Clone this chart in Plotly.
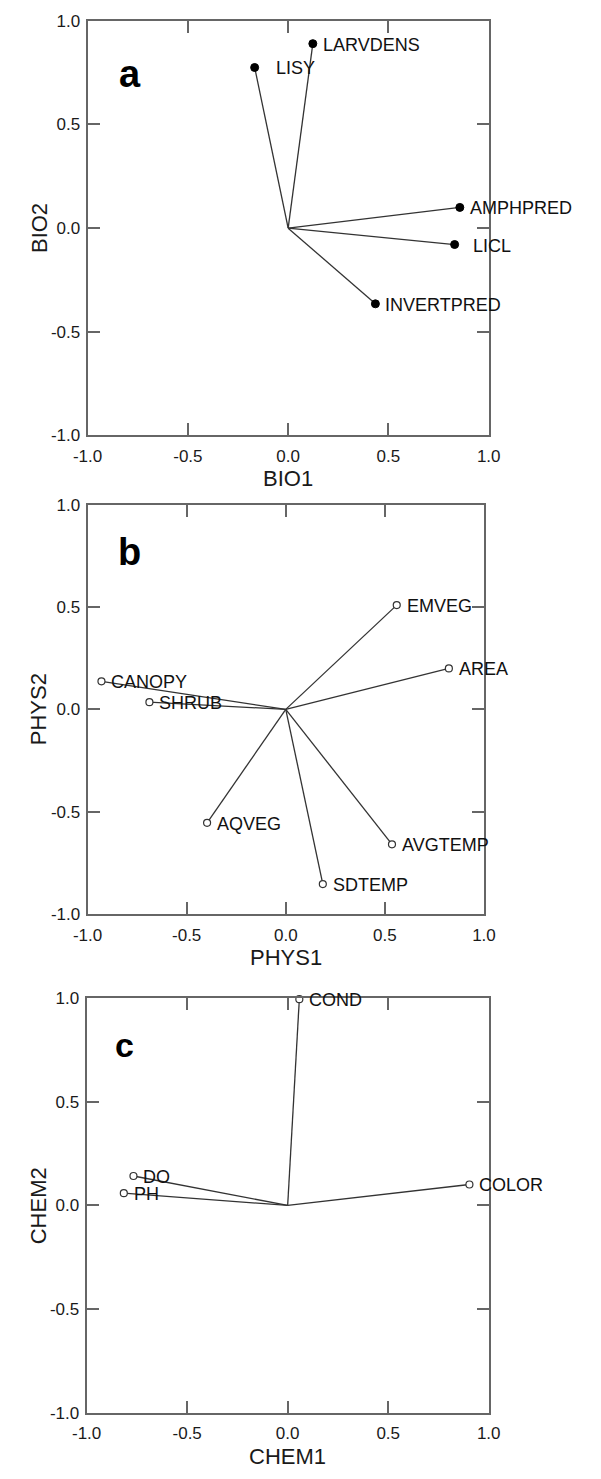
import plotly.graph_objects as go

# ---- data ----
bio_names = ["LARVDENS", "LISY", "AMPHPRED", "LICL", "INVERTPRED"]
bio_x = [0.123, -0.167, 0.856, 0.830, 0.435]
bio_y = [0.890, 0.775, 0.100, -0.079, -0.365]

phys_names = ["EMVEG", "AREA", "CANOPY", "SHRUB", "AQVEG", "AVGTEMP", "SDTEMP"]
phys_x = [0.560, 0.823, -0.930, -0.688, -0.397, 0.536, 0.187]
phys_y = [0.509, 0.200, 0.137, 0.035, -0.554, -0.659, -0.853]

chem_names = ["COND", "COLOR", "DO", "PH"]
chem_x = [0.058, 0.904, -0.767, -0.815]
chem_y = [0.995, 0.101, 0.142, 0.059]

tick_vals = [-1.0, -0.5, 0.0, 0.5, 1.0]
tick_text = ["-1.0", "-0.5", "0.0", "0.5", "1.0"]

panels = [
    dict(letter="a", xtitle="BIO1", ytitle="BIO2", names=bio_names, x=bio_x, y=bio_y, filled=True),
    dict(letter="b", xtitle="PHYS1", ytitle="PHYS2", names=phys_names, x=phys_x, y=phys_y, filled=False),
    dict(letter="c", xtitle="CHEM1", ytitle="CHEM2", names=chem_names, x=chem_x, y=chem_y, filled=False),
]

# ---- layout geometry (pixels in 601x1479 page) ----
W, H = 601, 1479
boxes = [  # left, right, top, bottom
    (76, 496, 12, 432),
    (76, 491, 502, 917),
    (75, 496, 1002, 1422),
]
letter_pos = [(-0.787, 0.743, 38), (-0.788, 0.769, 38), (-0.813, 0.773, 34)]
label_shift = {"LISY": 19, "LICL": 16}

FONT = "Arial, Liberation Sans, sans-serif"
AXC = "#666666"
TXT = "#1a1a1a"

fig = go.Figure()
layout = dict(width=W, height=H, margin=dict(l=0, r=0, t=0, b=0),
              paper_bgcolor="white", plot_bgcolor="white", showlegend=False,
              font=dict(family=FONT, color=TXT))
annotations = []

for i, (p, box) in enumerate(zip(panels, boxes)):
    k = "" if i == 0 else str(i + 1)
    xa, ya = "x" + k, "y" + k
    l, r, t, b = box
    lx, ly = [], []
    for x, y in zip(p["x"], p["y"]):
        lx += [0, x, None]
        ly += [0, y, None]
    fig.add_trace(go.Scatter(x=lx, y=ly, mode="lines", xaxis=xa, yaxis=ya,
                             line=dict(color="#333333", width=1.3), hoverinfo="skip",
                             cliponaxis=False))
    if p["filled"]:
        mk = dict(size=8, color="black", line=dict(color="black", width=1))
    else:
        mk = dict(size=7, color="white", line=dict(color="#333333", width=1.2))
    fig.add_trace(go.Scatter(x=p["x"], y=p["y"], mode="markers", xaxis=xa, yaxis=ya,
                             marker=mk, cliponaxis=False, text=p["names"]))
    for name, x, y in zip(p["names"], p["x"], p["y"]):
        annotations.append(dict(x=x, y=y, xref=xa, yref=ya, text=name, showarrow=False,
                                xanchor="left", yanchor="middle",
                                xshift=label_shift.get(name, 8), yshift=-1,
                                font=dict(size=18, color="#111111", family=FONT)))
    lxp, lyp, lsz = letter_pos[i]
    annotations.append(dict(x=lxp, y=lyp, xref=xa, yref=ya, text="<b>%s</b>" % p["letter"],
                            showarrow=False, xanchor="center", yanchor="middle",
                            font=dict(size=lsz, color="black", family=FONT)))
    # axis titles
    annotations.append(dict(x=(l + r) / 2 / W, y=1 - (b + 44) / H, xref="paper", yref="paper",
                            text=p["xtitle"], showarrow=False, xanchor="center", yanchor="middle",
                            font=dict(size=22, color=TXT, family=FONT)))
    annotations.append(dict(x=25 / W, y=1 - (t + b) / 2 / H, xref="paper", yref="paper",
                            text=p["ytitle"], showarrow=False, textangle=-90,
                            xanchor="center", yanchor="middle",
                            font=dict(size=22, color=TXT, family=FONT)))
    axis_common = dict(range=[-1, 1], tickvals=tick_vals, ticktext=tick_text,
                       showline=True, linecolor=AXC, linewidth=2, mirror="ticks",
                       ticks="inside", ticklen=12, tickwidth=1.5, tickcolor=AXC,
                       showgrid=False, zeroline=False,
                       tickfont=dict(size=17, color=TXT, family=FONT))
    layout["xaxis" + k] = dict(axis_common, domain=[l / W, r / W], anchor=ya,
                               ticklabelstandoff=4)
    layout["yaxis" + k] = dict(axis_common, domain=[1 - b / H, 1 - t / H], anchor=xa,
                               ticklabelstandoff=2)

layout["annotations"] = annotations
fig.update_layout(**layout)
fig.write_html("out.html")
